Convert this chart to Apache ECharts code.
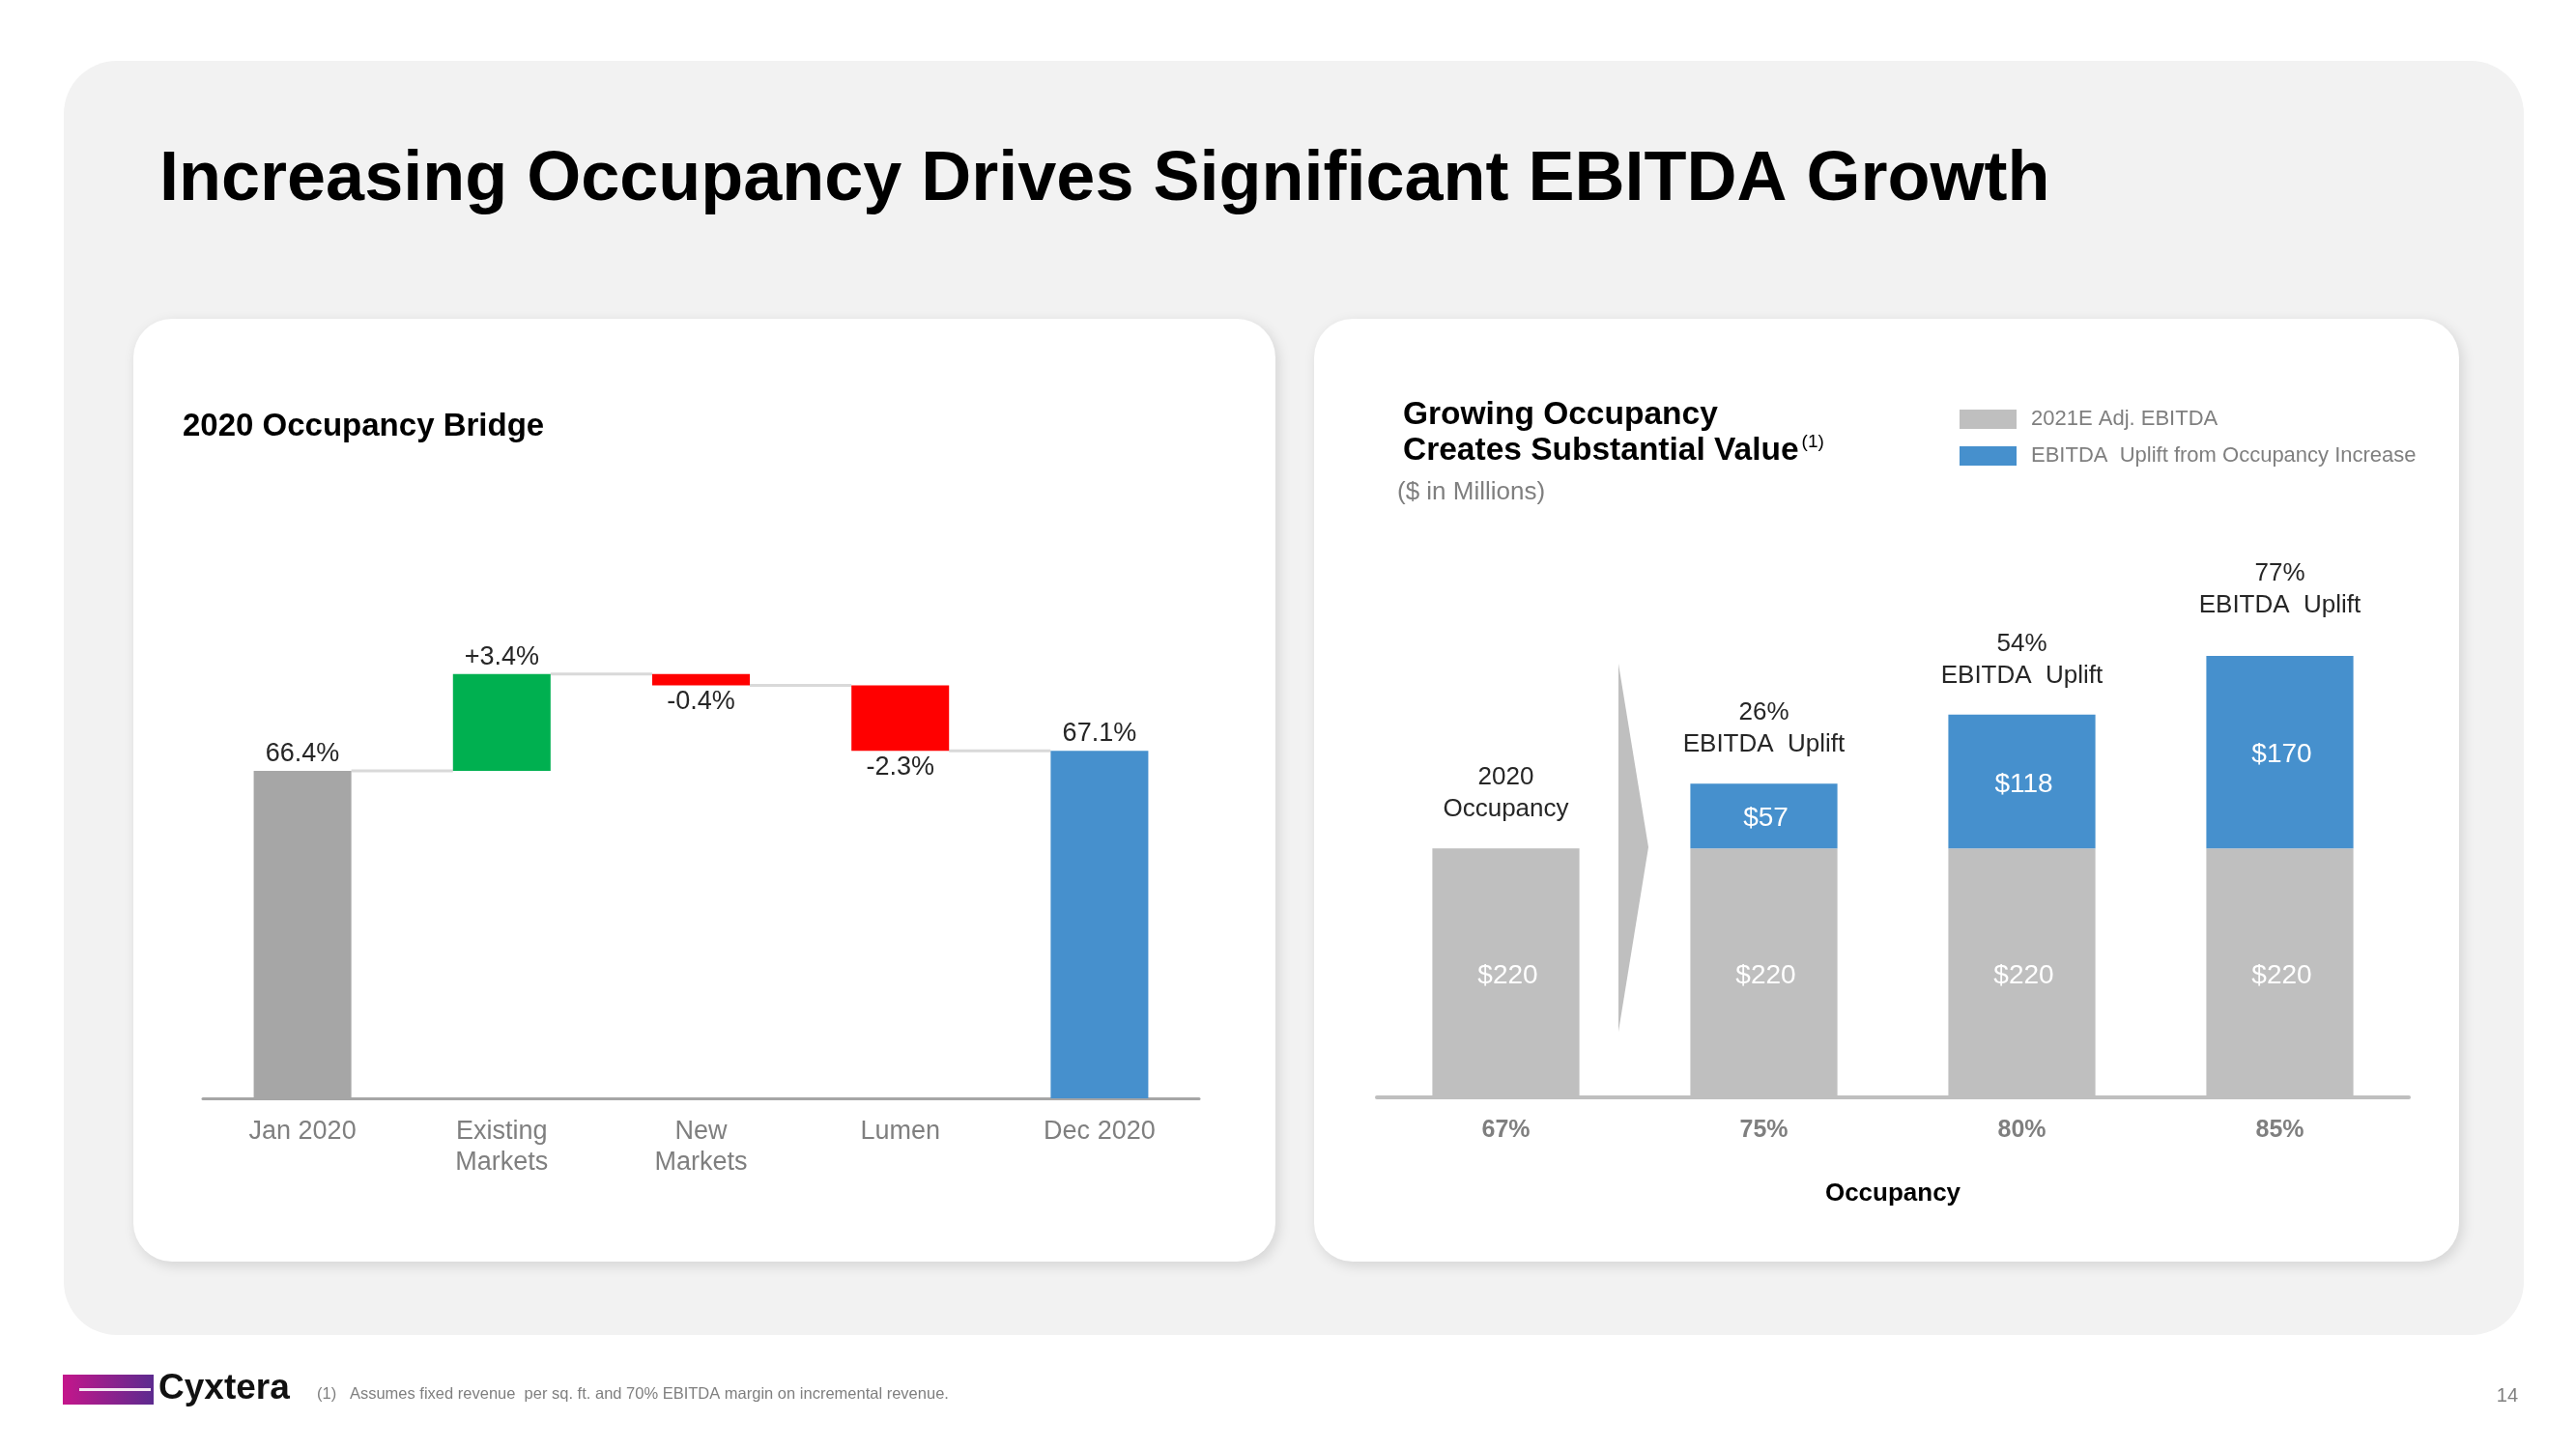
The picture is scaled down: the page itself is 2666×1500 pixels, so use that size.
<!DOCTYPE html>
<html><head><meta charset="utf-8">
<script src="https://cdn.jsdelivr.net/npm/echarts@6/dist/echarts.min.js"></script>
<style>html,body{margin:0;padding:0;background:#fff}#c{width:2666px;height:1500px}</style>
</head><body><div id="c"></div>
<script>
// ---------- data ----------
const bridgeCategories = ['Jan 2020', 'Existing\nMarkets', 'New\nMarkets', 'Lumen', 'Dec 2020'];
const bridgeStart = 66.4;
const bridgeChanges = [3.4, -0.4, -2.3];
const bridgeEnd = 67.1;
const bridgeLabels = ['66.4%', '+3.4%', '-0.4%', '-2.3%', '67.1%'];

const occCategories = ['67%', '75%', '80%', '85%'];
const baseEbitda = [220, 220, 220, 220];
const upliftEbitda = [null, 57, 118, 170];
const upliftPct = [null, 26, 54, 77];
const firstBarNote = '2020\nOccupancy';

// ---------- build ----------
const FF = '"Liberation Sans", Arial, sans-serif';
const chart = echarts.init(document.getElementById('c'), null, {renderer: 'canvas', width: 2666, height: 1500});

let run = bridgeStart;
const levels = [[0, bridgeStart]];
const floatBase = ['-'];
const floatDelta = ['-'];
bridgeChanges.forEach((c, k) => {
  const nr = Math.round((run + c) * 100) / 100;
  floatBase.push(Math.min(run, nr));
  floatDelta.push({
    value: Math.round(Math.abs(c) * 100) / 100,
    itemStyle: {color: c >= 0 ? '#00b050' : '#ff0000'},
    label: {position: c >= 0 ? 'top' : 'bottom'}
  });
  run = nr;
  levels.push([k + 1, run]);
});
floatBase.push('-');
floatDelta.push('-');
const totals = [
  {value: bridgeStart, itemStyle: {color: '#a6a6a6'}},
  '-', '-', '-',
  {value: bridgeEnd, itemStyle: {color: '#4690cd'}}
];

const topNotes = upliftPct.map((p, i) => p == null ? firstBarNote : p + '%\nEBITDA  Uplift');
const noteData = occCategories.map((c, i) => i === occCategories.length - 1 ? {value: 0, label: {distance: 36}} : 0);

function txt(x, y, text, size, opts) {
  opts = opts || {};
  return {
    type: 'text', z: 10,
    style: Object.assign({
      x: x, y: y, text: text, fontSize: size, fontFamily: FF,
      fontWeight: opts.bold ? 'bold' : 'normal', fill: opts.color || '#000',
      align: opts.align || 'left', verticalAlign: 'middle',
      textAlign: opts.align || 'left', textVerticalAlign: 'middle'
    }, opts.extra || {})
  };
}

const option = {
  animation: false,
  backgroundColor: '#ffffff',
  graphic: {elements: [
    {type: 'rect', z: -2, shape: {x: 66, y: 63, width: 2546, height: 1319, r: 55}, style: {fill: '#f2f2f2'}},
    {type: 'rect', z: -1, shape: {x: 138, y: 330, width: 1182, height: 976, r: 40},
      style: {fill: '#ffffff', shadowBlur: 14, shadowColor: 'rgba(0,0,0,0.13)', shadowOffsetX: 3, shadowOffsetY: 4}},
    {type: 'rect', z: -1, shape: {x: 1360, y: 330, width: 1185, height: 976, r: 40},
      style: {fill: '#ffffff', shadowBlur: 14, shadowColor: 'rgba(0,0,0,0.13)', shadowOffsetX: 3, shadowOffsetY: 4}},
    txt(165, 187, 'Increasing Occupancy Drives Significant EBITDA Growth', 72, {bold: true, color: '#000'}),
    txt(189, 442, '2020 Occupancy Bridge', 33, {bold: true, color: '#000'}),
    txt(1452, 430, 'Growing Occupancy', 33.5, {bold: true, color: '#000'}),
    {type: 'text', z: 10, style: {x: 1452, y: 467, text: '{a|Creates Substantial Value}{b|(1)}',
      verticalAlign: 'middle', textVerticalAlign: 'middle', fill: '#000',
      rich: {a: {fontSize: 33.5, fontWeight: 'bold', fontFamily: FF, fill: '#000', color: '#000', lineHeight: 38},
             b: {fontSize: 19, fontFamily: FF, fill: '#000', color: '#000', verticalAlign: 'top', lineHeight: 38, padding: [0, 0, 14, 3]}}}},
    txt(1446, 510, '($ in Millions)', 26, {color: '#7f7f7f'}),
    {type: 'polygon', z: 3, shape: {points: [[1675, 687], [1706, 877], [1675, 1068]]}, style: {fill: '#bfbfbf'}},
    {type: 'rect', z: 10, shape: {x: 65, y: 1423, width: 94, height: 31},
      style: {fill: new echarts.graphic.LinearGradient(0, 0, 1, 0, [{offset: 0, color: '#c4168b'}, {offset: 1, color: '#5c2b8f'}])}},
    {type: 'rect', z: 11, shape: {x: 82, y: 1437, width: 74, height: 3}, style: {fill: '#f3e6f1'}},
    txt(164, 1438, 'Cyxtera', 37, {bold: true, color: '#111'}),
    txt(328, 1443, '(1)   Assumes fixed revenue  per sq. ft. and 70% EBITDA margin on incremental revenue.', 16.5, {color: '#7f7f7f'}),
    txt(2606, 1445, '14', 20, {color: '#7f7f7f', align: 'right'})
  ]},
  legend: {
    data: ['2021E Adj. EBITDA', 'EBITDA  Uplift from Occupancy Increase'],
    orient: 'vertical', left: 2023, top: 418, itemWidth: 59, itemHeight: 20, itemGap: 16,
    icon: 'rect', selectedMode: false,
    textStyle: {color: '#7f7f7f', fontSize: 22, fontFamily: FF, padding: [0, 0, 0, 10]}
  },
  grid: [
    {left: 210, width: 1031, top: 400, height: 737},
    {left: 1425, width: 1068, top: 550, height: 586}
  ],
  xAxis: [
    {type: 'category', gridIndex: 0, data: bridgeCategories, z: 5,
      axisLine: {lineStyle: {color: '#a6a6a6', width: 3}}, axisTick: {show: false},
      axisLabel: {color: '#7f7f7f', fontSize: 27, fontFamily: FF, lineHeight: 32, margin: 19, interval: 0}},
    {type: 'category', gridIndex: 1, data: occCategories, z: 5,
      axisLine: {lineStyle: {color: '#bfbfbf', width: 4}}, axisTick: {show: false},
      axisLabel: {color: '#7f7f7f', fontSize: 25, fontFamily: FF, fontWeight: 'bold', margin: 22},
      name: 'Occupancy', nameLocation: 'middle', nameGap: 87,
      nameTextStyle: {color: '#000', fontSize: 26, fontWeight: 'bold', fontFamily: FF}}
  ],
  yAxis: [
    {type: 'value', gridIndex: 0, min: 54.9, max: 79.9, show: false},
    {type: 'value', gridIndex: 1, min: 0, max: 500, show: false}
  ],
  series: [
    {type: 'bar', xAxisIndex: 0, yAxisIndex: 0, data: totals, barWidth: '49%', barGap: '-100%', z: 6,
      label: {show: true, position: 'top', distance: 4, color: '#262626', fontSize: 27, fontFamily: FF,
        formatter: p => bridgeLabels[p.dataIndex]}},
    {type: 'bar', xAxisIndex: 0, yAxisIndex: 0, stack: 'w', data: floatBase, barWidth: '49%',
      itemStyle: {color: 'rgba(0,0,0,0)'}, silent: true},
    {type: 'bar', xAxisIndex: 0, yAxisIndex: 0, stack: 'w', data: floatDelta, barWidth: '49%', z: 6,
      label: {show: true, distance: 4, color: '#262626', fontSize: 27, fontFamily: FF,
        formatter: p => bridgeLabels[p.dataIndex]}},
    {type: 'custom', xAxisIndex: 0, yAxisIndex: 0, data: levels, encode: {x: 0, y: 1}, z: 3, silent: true,
      renderItem: function (params, api) {
        const i = api.value(0), v = api.value(1);
        const a = api.coord([i, v]), b = api.coord([i + 1, v]);
        const hw = api.size([1, 0])[0] * 0.49 / 2;
        return {type: 'line', shape: {x1: a[0] + hw, y1: a[1], x2: b[0] - hw, y2: b[1]},
          style: {stroke: '#d9d9d9', lineWidth: 3}};
      }},
    {name: '2021E Adj. EBITDA', type: 'bar', xAxisIndex: 1, yAxisIndex: 1, stack: 'e', data: baseEbitda,
      barWidth: '57%', itemStyle: {color: '#bfbfbf'},
      label: {show: true, position: 'inside', offset: [2, 3], color: '#ffffff', fontSize: 28, fontFamily: FF, formatter: p => '$' + p.value}},
    {name: 'EBITDA  Uplift from Occupancy Increase', type: 'bar', xAxisIndex: 1, yAxisIndex: 1, stack: 'e',
      data: upliftEbitda.map(v => v == null ? '-' : v),
      barWidth: '57%', itemStyle: {color: '#4690cd'},
      label: {show: true, position: 'inside', offset: [2, 3], color: '#ffffff', fontSize: 28, fontFamily: FF, formatter: p => '$' + p.value}},
    {name: 'notes', type: 'bar', xAxisIndex: 1, yAxisIndex: 1, stack: 'e', data: noteData,
      barWidth: '57%', itemStyle: {color: 'rgba(0,0,0,0)'}, silent: true,
      label: {show: true, position: 'top', distance: 24, color: '#262626', fontSize: 26, lineHeight: 33, fontFamily: FF,
        formatter: p => topNotes[p.dataIndex]}}
  ]
};
chart.setOption(option);
</script>
</body></html>
